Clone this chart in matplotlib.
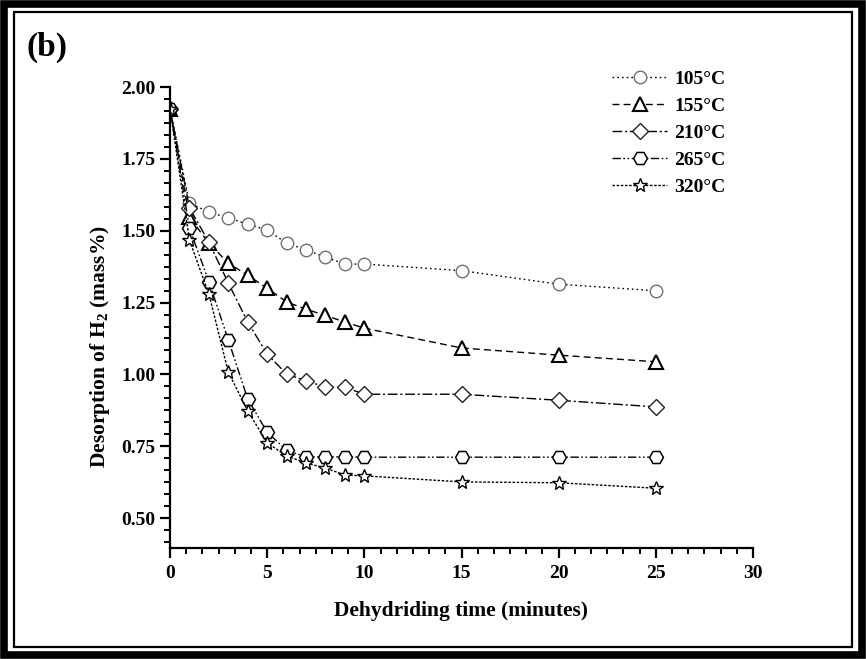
import matplotlib
matplotlib.use("Agg")
import matplotlib.pyplot as plt
from matplotlib.ticker import MultipleLocator, AutoMinorLocator, FixedLocator, FormatStrFormatter
from matplotlib.patches import Rectangle

plt.rcParams['font.family'] = ['Liberation Serif', 'DejaVu Serif']
plt.rcParams['font.weight'] = 'bold'
plt.rcParams['mathtext.fontset'] = 'custom'
plt.rcParams['mathtext.rm'] = 'Liberation Serif:bold'
plt.rcParams['mathtext.bf'] = 'Liberation Serif:bold'

# ---- data ----
time_min = [0, 1, 2, 3, 4, 5, 6, 7, 8, 9, 10, 15, 20, 25]
labels = ["105°C", "155°C", "210°C", "265°C", "320°C"]
h2_105 = [1.925, 1.596, 1.565, 1.544, 1.523, 1.502, 1.457, 1.433, 1.408, 1.384, 1.384, 1.361, 1.314, 1.291]
h2_155 = [1.925, 1.547, 1.457, 1.387, 1.345, 1.300, 1.252, 1.227, 1.205, 1.182, 1.161, 1.092, 1.067, 1.044]
h2_210 = [1.925, 1.580, 1.460, 1.318, 1.182, 1.071, 1.001, 0.978, 0.956, 0.955, 0.931, 0.931, 0.910, 0.887]
h2_265 = [1.925, 1.509, 1.323, 1.120, 0.914, 0.799, 0.736, 0.713, 0.713, 0.713, 0.712, 0.712, 0.712, 0.712]
h2_320 = [1.925, 1.467, 1.280, 1.008, 0.873, 0.762, 0.716, 0.692, 0.674, 0.650, 0.647, 0.626, 0.623, 0.604]

series = [h2_105, h2_155, h2_210, h2_265, h2_320]
markers = ['o', '^', 'D', 'H', '*']
msizes = [9, 10, 8, 10, 10]
mews = [1.0, 1.5, 1.0, 1.1, 1.0]
mecs = ['#707070', 'black', '#222222', 'black', 'black']
styles = [(0, (1.2, 2.2)), (0, (5, 3)), (0, (7, 2, 1.5, 2)), (0, (6, 1.8, 1.2, 1.8, 1.2, 1.8)), (0, (1.8, 1.2))]

fig = plt.figure(figsize=(8.66, 6.59), dpi=100)
ax = fig.add_axes([170/866, 1-548/659, (753-170)/866, (548-87)/659])

for ys, lab, mk, ms, mew, mec, ls in zip(series, labels, markers, msizes, mews, mecs, styles):
    ax.plot(time_min, ys, linestyle=ls, color='black', linewidth=1.0,
            marker=mk, markersize=ms, markerfacecolor='white',
            markeredgecolor=mec, markeredgewidth=mew, label=lab)

ax.set_xlim(0, 30)
ax.set_ylim(0.396, 2.0)
ax.xaxis.set_major_locator(MultipleLocator(5))
ax.xaxis.set_minor_locator(AutoMinorLocator(6))
ax.yaxis.set_major_locator(FixedLocator([0.5, 0.75, 1.0, 1.25, 1.5, 1.75, 2.0]))
ax.yaxis.set_minor_locator(MultipleLocator(0.25/6))
ax.yaxis.set_major_formatter(FormatStrFormatter('%.2f'))

for s in ['top', 'right']:
    ax.spines[s].set_visible(False)
for s in ['left', 'bottom']:
    ax.spines[s].set_linewidth(1.6)
ax.tick_params(which='major', direction='out', length=7.5, width=1.6, labelsize=14, pad=3)
ax.tick_params(axis='x', which='major', pad=5)
ax.tick_params(which='minor', direction='out', length=4.5, width=1.4)
for t in ax.get_xticklabels() + ax.get_yticklabels():
    t.set_fontweight('bold')

ax.set_xlabel("Dehydriding time (minutes)", fontsize=15.5, fontweight='bold')
ax.xaxis.set_label_coords(0.5, -0.115)
ax.set_ylabel(r"Desorption of H$_\mathbf{2}$ (mass%)", fontsize=15.5, fontweight='bold')
ax.yaxis.set_label_coords(-0.10, 0.436)

leg = ax.legend(loc='upper left', bbox_to_anchor=(0.728, 1.075), frameon=False,
                handlelength=2.85, handletextpad=0.36, labelspacing=0.49,
                prop={'weight': 'bold', 'size': 14})

fig.text(27/866, 1-47/659, "(b)", fontsize=24, fontweight='bold', va='center', ha='left')

# double border
fig.patches.append(Rectangle((4/866, 4/659), 1-8/866, 1-8/659, transform=fig.transFigure,
                             fill=False, edgecolor='black', linewidth=5.5))
fig.patches.append(Rectangle((14/866, 12/659), 1-28/866, 1-24/659, transform=fig.transFigure,
                             fill=False, edgecolor='black', linewidth=1.6))

fig.savefig("out.png", dpi=100)
